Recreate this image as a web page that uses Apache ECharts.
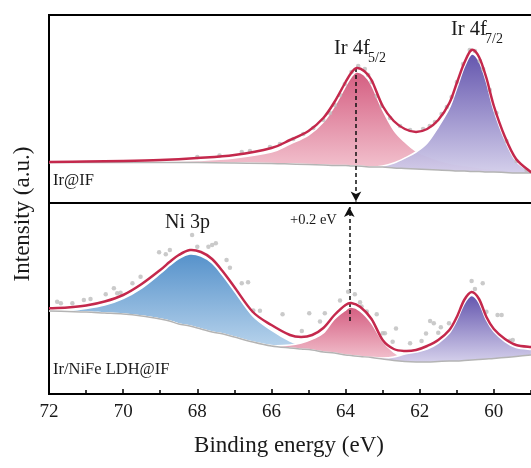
<!DOCTYPE html>
<html>
<head>
<meta charset="utf-8">
<script src="https://cdn.jsdelivr.net/npm/echarts@6/dist/echarts.min.js"></script>
<style>html,body{margin:0;padding:0;background:#fff}#c{width:531px;height:468px}</style>
</head>
<body>
<div id="c"></div>
<script>
// ---------- data (binding energy in eV, intensity in a.u.) ----------
const xTicks = [72, 70, 68, 66, 64, 62, 60];

// Upper panel: Ir@IF
const topX          = [72,71,70,69,68,67,66,65.5,65,64.6,64.3,64.0,63.85,63.7,63.5,63.3,63.0,62.7,62.4,62.1,61.8,61.5,61.2,61.0,60.8,60.6,60.4,60.2,60.0,59.7,59.4,59.0];
const topEnvelope   = [41,41.5,42,43,45,48,55,63,72,85,101,121,130,135,132,123,97,82,74,71,74,83,100,120,140,153,146,125,97,66,44,31];
const topBackground = [40.5,40.5,40.5,40.5,40.5,40,39.5,39,38.5,38,37.5,37.5,37,37,36.5,36,36,35,34.5,34,33.5,33,32.5,32,32,31.5,31.5,31,31,30.5,30,30];
const topIr4f52     = [40.5,40.7,41,41.5,42.5,45,51,59,68,81,97,117,126,131,128,118,93,73,61,52,47,43,40,38.5,37.5,36.5,35.5,34.5,34,33,31.5,30.5];
const topIr4f72     = [40.5,40.5,40.5,40.5,40.5,40,39.5,39,38.5,38,37.5,37.5,37,37,36.5,36,37,40,45,51,60,76,95,115,136,149,142,121,93,63,42,31];
const topRawX = [68.0,67.4,66.8,66.58,66.04,65.77,65.41,65.14,64.87,64.60,64.42,64.29,64.15,64.02,63.84,63.66,63.48,63.39,63.30,63.16,63.03,62.80,62.53,62.26,61.91,61.73,61.59,61.41,61.27,61.14,61.00,60.83,60.65,60.51,60.38,60.29,60.11,59.93,59.66,59.39,59.12];
const topRawY = [46,47.5,51,52,56,59,64,69,75,83,90,98,108,119,131,137,134,128,121,107,97,85,77,73,74,77,81,89,96,106,121,139,153,152,142,134,113,90,62,42,33];

// Lower panel: Ir/NiFe LDH@IF
const botX          = [72,71.5,71,70.5,70,69.5,69,68.75,68.5,68.2,67.9,67.6,67.3,67,66.5,66,65.5,65.2,64.9,64.6,64.3,64.0,63.85,63.6,63.3,63.0,62.7,62.4,62.1,61.8,61.5,61.2,61.0,60.8,60.6,60.4,60.2,60.0,59.7,59.4,59.0];
const botEnvelope   = [85.7,86.5,88.5,92.5,99,110,124,132,139,144,142,135,122,107,82,69,59,57,59,66,79,89,91,87,75,54,45,43,44,48,54,64,77,94,102,95,77,65,55,49,47];
const botBackground = [83,82.5,82,81,80,78,75,73,70,68,65,62,60,57,52,48,46,45,44,42,41,39,38.5,37.5,36.5,35,33.5,32.5,32,32,32.5,33,33,33.5,34,34.5,35,35.5,36.5,37.5,39];
const botNi3p       = [83,83.5,85.5,89,95.5,106,120.5,128.5,135.5,140,138,131,118,103,78,64,53,49,46,43,41.5,39,38.5,37.5,36.5,35,33.5,32.5,32,32,32.5,33,33,33.5,34,34.5,35,35.5,36.5,37.5,39];
const botIr4f52     = [83,82.5,82,81,80,78,75,73,70,68,65,62,60,57,52,48.5,49,51,55,61,75,84,87,83,71,53,42,36,33,32,32.5,33,33,33.5,34,34.5,35,35.5,36.5,37.5,39];
const botIr4f72     = [83,82.5,82,81,80,78,75,73,70,68,65,62,60,57,52,48,46,45,44,42,41,39,38.5,37.5,36.5,36,37,40,42,45,51,61,74,90.5,98.5,91.5,74,62.5,52.5,46.5,44.5];
const botRawX = [71.78,71.68,71.37,71.06,70.88,70.47,70.25,70.16,70.07,69.75,69.53,69.03,68.85,68.74,68.14,68.00,67.70,67.60,67.50,67.21,67.12,66.80,66.63,66.49,66.31,65.70,65.18,64.98,64.69,64.56,64.15,63.93,63.75,63.61,63.57,63.43,63.16,63.00,62.94,62.73,62.64,62.26,61.95,61.83,61.72,61.62,61.50,61.43,61.21,60.60,60.51,60.30,60.20,59.90,59.79,59.57,59.49];
const botRawY = [92.3,90.7,90.7,94,95,99.7,105.7,100.7,101.3,110.7,117.3,141.7,139.7,144,159,147.3,147.3,149,150.7,134,126.3,110.7,111.7,83.5,83.3,79.7,63,80.7,72.5,80.7,93.5,102.3,99.7,91.7,87.5,82.5,79.7,60.7,60.7,52.3,65.5,50.7,53,60.5,73,70.7,61.3,66.7,70.7,113,105,110.7,82.3,79,79,53.3,54];

// shift arrows (eV position, from intensity, to intensity)
const topShift = {e: 63.72, from: 135, to: 1.5};
const botShift = {e: 63.90, from: 73, to: 187};

// ---------- helpers ----------
const FONT = 'Liberation Serif';
const pairs = (xs, ys) => xs.map((x, i) => [x, ys[i]]);
const grad = (c1, c2) => new echarts.graphic.LinearGradient(0, 0, 0, 1, [{offset:0, color:c1}, {offset:1, color:c2}]);
const PINK = () => grad('#d2557a', '#f3c3cf');
const PURPLE = () => grad('#5c4daa', '#d2cdea');
const BLUE = () => grad('#4d8cc8', '#c3dbf0');

const P = p => p[0].toFixed(2) + ' ' + p[1].toFixed(2);
// Catmull-Rom curve segments through screen points (starting after the first point)
function curve(pts) {
  let d = '';
  for (let i = 0; i < pts.length - 1; i++) {
    const p0 = pts[i - 1] || pts[i], p1 = pts[i], p2 = pts[i + 1], p3 = pts[i + 2] || pts[i + 1];
    const c1 = [p1[0] + (p2[0] - p0[0]) / 6, p1[1] + (p2[1] - p0[1]) / 6];
    const c2 = [p2[0] - (p3[0] - p1[0]) / 6, p2[1] - (p3[1] - p1[1]) / 6];
    d += ' C ' + P(c1) + ' ' + P(c2) + ' ' + P(p2);
  }
  return d;
}

function band(gi, xs, upper, lower, fillFn, z) {
  return {type:'custom', coordinateSystem:'cartesian2d', xAxisIndex:gi, yAxisIndex:gi, z:z, silent:true, clip:true,
    data: xs.map((x, i) => [x, upper[i], lower[i]]), encode:{x:0, y:[1, 2]},
    renderItem: (params, api) => {
      if (params.dataIndex !== 0) return null;
      const top = xs.map((x, i) => api.coord([x, upper[i]]));
      const bot = xs.map((x, i) => api.coord([x, lower[i]])).reverse();
      const topD = 'M ' + P(top[0]) + curve(top);
      return {type:'group', children:[
        {type:'path', shape:{pathData: topD + ' L ' + P(bot[0]) + curve(bot) + ' Z'}, style:{fill: fillFn(), opacity:0.95}},
        {type:'path', shape:{pathData: topD}, style:{fill:'none', stroke:'#ffffff', lineWidth:1.6}}
      ]};
    }};
}
function curveLine(gi, xs, ys, color, width, z) {
  return {type:'custom', coordinateSystem:'cartesian2d', xAxisIndex:gi, yAxisIndex:gi, z:z, silent:true, clip:true,
    data: pairs(xs, ys), encode:{x:0, y:1},
    renderItem: (params, api) => {
      if (params.dataIndex !== 0) return null;
      const pts = xs.map((x, i) => api.coord([x, ys[i]]));
      return {type:'path', shape:{pathData: 'M ' + P(pts[0]) + curve(pts)},
        style:{fill:'none', stroke:color, lineWidth:width, lineJoin:'round', lineCap:'round'}};
    }};
}
function arrowLine(shift) {
  return {silent:true, symbol:['none','arrow'], symbolSize:[8,10], label:{show:false},
    lineStyle:{type:[4,3], color:'#111', width:1.5},
    data:[[{coord:[shift.e, shift.from]}, {coord:[shift.e, shift.to]}]]};
}
function rawDots(gi, xs, ys, shift) {
  return {type:'scatter', xAxisIndex:gi, yAxisIndex:gi, data:pairs(xs, ys), symbolSize:4.5,
    itemStyle:{color:'#bdbdbd'}, z:5, silent:true, markLine:arrowLine(shift)};
}

const series = [
  band(0, topX, topIr4f52, topBackground, PINK, 2),
  band(0, topX, topIr4f72, topBackground, PURPLE, 3),
  curveLine(0, topX, topBackground, '#b4b4b4', 1.5, 4),
  rawDots(0, topRawX, topRawY, topShift),
  curveLine(0, topX, topEnvelope, '#c4284c', 2.5, 6),

  band(1, botX, botNi3p, botBackground, BLUE, 2),
  band(1, botX, botIr4f52, botBackground, PINK, 3),
  band(1, botX, botIr4f72, botBackground, PURPLE, 3),
  curveLine(1, botX, botBackground, '#b4b4b4', 1.5, 4),
  rawDots(1, botRawX, botRawY, botShift),
  curveLine(1, botX, botEnvelope, '#c4284c', 2.5, 6)
];

const txt = (text, x, y, size) => ({type:'text', x:x, y:y, z:100,
  style:{text:text, fontFamily:FONT, fontSize:size, fill:'#1a1a1a', verticalAlign:'middle', align:'left'}});

const chart = echarts.init(document.getElementById('c'), null, {renderer:'canvas'});
chart.setOption({
  animation:false,
  backgroundColor:'#ffffff',
  grid:[
    {left:49, top:15, width:519, height:188, show:true, borderColor:'#000', borderWidth:2, backgroundColor:'transparent',
     containLabel:false, outerBoundsMode:'none'},
    {left:49, top:203, width:519, height:191, show:true, borderColor:'#000', borderWidth:2, backgroundColor:'transparent',
     containLabel:false, outerBoundsMode:'none'}
  ],
  xAxis:[
    {type:'value', gridIndex:0, min:58, max:72, interval:2, inverse:true, show:false},
    {type:'value', gridIndex:1, min:58, max:72, interval:2, inverse:true,
     axisLine:{show:false},
     axisTick:{show:true, inside:true, length:5, lineStyle:{color:'#000', width:1.5}},
     minorTick:{show:true, splitNumber:2, length:4, lineStyle:{color:'#000', width:1.5}},
     splitLine:{show:false}, minorSplitLine:{show:false},
     axisLabel:{fontFamily:FONT, fontSize:19, color:'#1a1a1a', margin:9, showMinLabel:true, showMaxLabel:true,
       formatter: v => (xTicks.indexOf(v) >= 0 ? String(v) : '')}}
  ],
  yAxis:[
    {type:'value', gridIndex:0, min:0, max:188, show:false},
    {type:'value', gridIndex:1, min:0, max:191, show:false}
  ],
  series: series,
  graphic:[
    txt('Ir 4f', 334, 48.5, 20.5),
    txt('5/2', 368, 58.5, 14),
    txt('Ir 4f', 451, 29.5, 20.5),
    txt('7/2', 485, 39.5, 14),
    txt('Ni 3p', 165, 223, 20),
    txt('+0.2 eV', 290, 220, 14.5),
    txt('Ir@IF', 53, 181, 16.5),
    txt('Ir/NiFe LDH@IF', 53, 370, 16.5),
    {type:'text', x:23, y:214, rotation:Math.PI/2, z:100,
     style:{text:'Intensity (a.u.)', fontFamily:FONT, fontSize:23, fill:'#1a1a1a', align:'center', verticalAlign:'middle'}},
    {type:'text', x:289, y:446, z:100,
     style:{text:'Binding energy (eV)', fontFamily:FONT, fontSize:23, fill:'#1a1a1a', align:'center', verticalAlign:'middle'}}
  ]
});
</script>
</body>
</html>
